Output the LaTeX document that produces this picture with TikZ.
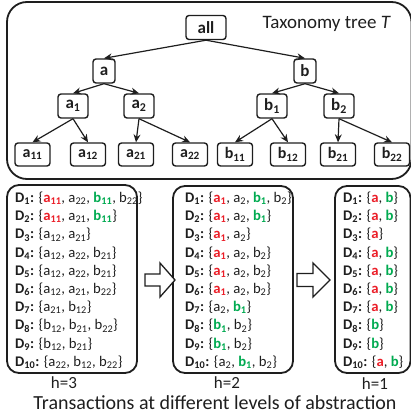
\documentclass[tikz,border=0pt]{standalone}
\usepackage{fontspec}
\setmainfont{Carlito}
\usetikzlibrary{arrows.meta}
\definecolor{hred}{RGB}{235,30,40}
\definecolor{hgreen}{RGB}{0,170,80}
\definecolor{ink}{RGB}{30,30,30}
\newcommand{\rd}[1]{\textcolor{hred}{\textbf{#1}}}
\newcommand{\gn}[1]{\textcolor{hgreen}{\textbf{#1}}}
\newcommand{\sub}[1]{\textsubscript{#1}}
\newcommand{\Dl}[1]{\textbf{D\textsubscript{#1}:}}
\begin{document}
\begin{tikzpicture}[x=1pt,y=-1pt, color=ink,
  tnode/.style={draw, line width=1.4pt, rounded corners=3pt, font=\fontsize{17}{17}\selectfont\bfseries, minimum height=24pt, inner sep=1pt},
  leaf/.style={tnode, font=\fontsize{16}{16}\selectfont\bfseries, minimum width=35pt, minimum height=23pt},
  edge/.style={-{Stealth[length=8pt,width=7pt]}, line width=1.2pt},
  frame/.style={draw, line width=1.8pt, rounded corners=12pt},
  tline/.style={anchor=base west, inner sep=0pt, font=\fontsize{14.7}{16}\selectfont},
  hlab/.style={font=\fontsize{17}{17}\selectfont, inner sep=0pt},
  barrow/.style={draw, line width=1.3pt, fill=white}
]
\useasboundingbox (0,0) rectangle (411,415);
% tree frame
\draw[line width=1.8pt, rounded corners=20pt] (7,2) rectangle (411.5,179);
\node[anchor=base east, inner sep=0pt, font=\fontsize{19}{19}\selectfont] (ttl) at (391,28) {Taxonomy tree \textit{T}};
% tree nodes
\node[tnode, minimum width=40pt] (all) at (206,27.5) {all};
\node[tnode, minimum width=22pt] (a) at (104,71) {a};
\node[tnode, minimum width=22pt] (b) at (305,71) {b};
\node[tnode, minimum width=30pt] (a1) at (73,106) {a\sub{1}};
\node[tnode, minimum width=30pt] (a2) at (139,106) {a\sub{2}};
\node[tnode, minimum width=30pt] (b1) at (272,106) {b\sub{1}};
\node[tnode, minimum width=30pt] (b2) at (339,106) {b\sub{2}};
\node[leaf] (a11) at (32.5,154.5) {a\sub{11}};
\node[leaf] (a12) at (88,154.5) {a\sub{12}};
\node[leaf] (a21) at (136,154.5) {a\sub{21}};
\node[leaf] (a22) at (190,154.5) {a\sub{22}};
\node[leaf] (b11) at (235,154.5) {b\sub{11}};
\node[leaf] (b12) at (288,154.5) {b\sub{12}};
\node[leaf] (b21) at (338,154.5) {b\sub{21}};
\node[leaf] (b22) at (392,154.5) {b\sub{22}};
\foreach \p/\c in {all/a,all/b,a/a1,a/a2,b/b1,b/b2,a1/a11,a1/a12,a2/a21,a2/a22,b1/b11,b1/b12,b2/b21,b2/b22}
  \draw[edge] (\p.south) -- (\c.north);
% transaction frames
\draw[frame] (7,185) rectangle (137,373);
\draw[frame] (173,186) rectangle (293,373);
\draw[frame] (335,186) rectangle (410.5,373);
% level 3
\foreach \i/\t [count=\k from 0] in {
 1/{\{\rd{a\sub{11}}, a\sub{22}, \gn{b\sub{11}}, b\sub{22}\}},
 2/{\{\rd{a\sub{11}}, a\sub{21}, \gn{b\sub{11}}\}},
 3/{\{a\sub{12}, a\sub{21}\}},
 4/{\{a\sub{12}, a\sub{22}, b\sub{21}\}},
 5/{\{a\sub{12}, a\sub{22}, b\sub{21}\}},
 6/{\{a\sub{12}, a\sub{21}, b\sub{22}\}},
 7/{\{a\sub{21}, b\sub{12}\}},
 8/{\{b\sub{12}, b\sub{21}, b\sub{22}\}},
 9/{\{b\sub{12}, b\sub{21}\}},
 10/{\{a\sub{22}, b\sub{12}, b\sub{22}\}}}
 \node[tline] (L3-\i) at (15,202.5+18.2*\k) {\Dl{\i} \t};
% level 2
\foreach \i/\t [count=\k from 0] in {
 1/{\{\rd{a\sub{1}}, a\sub{2}, \gn{b\sub{1}}, b\sub{2}\}},
 2/{\{\rd{a\sub{1}}, a\sub{2}, \gn{b\sub{1}}\}},
 3/{\{\rd{a\sub{1}}, a\sub{2}\}},
 4/{\{\rd{a\sub{1}}, a\sub{2}, b\sub{2}\}},
 5/{\{\rd{a\sub{1}}, a\sub{2}, b\sub{2}\}},
 6/{\{\rd{a\sub{1}}, a\sub{2}, b\sub{2}\}},
 7/{\{a\sub{2}, \gn{b\sub{1}}\}},
 8/{\{\gn{b\sub{1}}, b\sub{2}\}},
 9/{\{\gn{b\sub{1}}, b\sub{2}\}},
 10/{\{a\sub{2}, \gn{b\sub{1}}, b\sub{2}\}}}
 \node[tline] (L2-\i) at (185,202.5+18.2*\k) {\Dl{\i} \t};
% level 1
\foreach \i/\t [count=\k from 0] in {
 1/{\{\rd{a}, \gn{b}\}},
 2/{\{\rd{a}, \gn{b}\}},
 3/{\{\rd{a}\}},
 4/{\{\rd{a}, \gn{b}\}},
 5/{\{\rd{a}, \gn{b}\}},
 6/{\{\rd{a}, \gn{b}\}},
 7/{\{\rd{a}, \gn{b}\}},
 8/{\{\gn{b}\}},
 9/{\{\gn{b}\}},
 10/{\{\rd{a}, \gn{b}\}}}
 \node[tline] (L1-\i) at (343,202.5+18.2*\k) {\Dl{\i} \t};
% block arrows
\draw[barrow] (145,274) -- (160,274) -- (160,263) -- (175,280) -- (160,297) -- (160,286) -- (145,286) -- cycle;
\draw[barrow] (297,273.5) -- (313,273.5) -- (313,263) -- (330,280) -- (313,297) -- (313,286.5) -- (297,286.5) -- cycle;
% labels
\node[hlab] (h3) at (64,383) {h=3};
\node[hlab] (h2) at (227,383) {h=2};
\node[hlab] (h1) at (375,384) {h=1};
\node[font=\fontsize{20}{20}\selectfont, inner sep=0pt] (cap) at (215,402.5) {Transactions at different levels of abstraction};
\end{tikzpicture}
\end{document}
